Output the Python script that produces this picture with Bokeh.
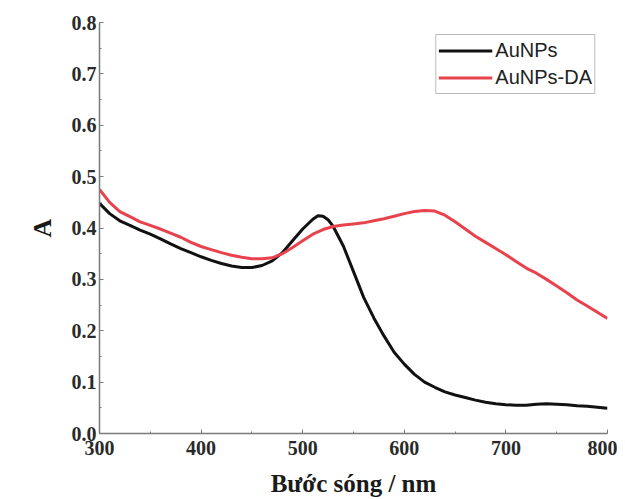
from bokeh.plotting import figure
from bokeh.models import Range1d, FixedTicker, Legend, LegendItem
from bokeh.embed import file_html
from bokeh.resources import INLINE

wavelength = [300, 310, 320, 330, 340, 350, 360, 370, 380, 390, 400, 410, 420, 430, 440,
              450, 460, 470, 480, 490, 500, 510, 515, 520, 525, 530, 540, 550, 560, 570,
              580, 590, 600, 610, 620, 630, 640, 650, 660, 670, 680, 690, 700, 710, 720,
              730, 740, 750, 760, 770, 780, 790, 800]

aunps = [0.448, 0.428, 0.414, 0.405, 0.396, 0.388, 0.379, 0.369, 0.360, 0.352, 0.344,
         0.337, 0.331, 0.326, 0.323, 0.323, 0.327, 0.336, 0.352, 0.375, 0.398, 0.417,
         0.424, 0.423, 0.416, 0.403, 0.365, 0.315, 0.265, 0.225, 0.190, 0.158, 0.135,
         0.115, 0.100, 0.090, 0.081, 0.075, 0.070, 0.065, 0.061, 0.058, 0.056, 0.055,
         0.055, 0.057, 0.058, 0.057, 0.056, 0.054, 0.053, 0.051, 0.049]

wavelength_da = [300, 310, 320, 330, 340, 350, 360, 370, 380, 390, 400, 410, 420, 430, 440,
                 450, 460, 470, 480, 490, 500, 510, 520, 530, 540, 550, 560, 570, 580, 590,
                 600, 610, 620, 630, 640, 650, 660, 670, 680, 690, 700, 710, 720, 730, 740,
                 750, 760, 770, 780, 790, 800]

aunps_da = [0.475, 0.450, 0.432, 0.422, 0.412, 0.405, 0.398, 0.390, 0.382, 0.372, 0.364,
            0.358, 0.352, 0.347, 0.343, 0.340, 0.340, 0.342, 0.350, 0.362, 0.375, 0.388,
            0.397, 0.403, 0.406, 0.408, 0.410, 0.414, 0.418, 0.423, 0.428, 0.432, 0.434,
            0.433, 0.425, 0.412, 0.398, 0.384, 0.372, 0.360, 0.348, 0.335, 0.322, 0.312,
            0.300, 0.287, 0.274, 0.260, 0.248, 0.236, 0.224]

x_ticks = [300, 400, 500, 600, 700, 800]
y_ticks = [0.0, 0.1, 0.2, 0.3, 0.4, 0.5, 0.6, 0.7, 0.8]

p = figure(width=617, height=490, frame_width=508, frame_height=411,
           output_backend="svg", toolbar_location=None,
           x_range=Range1d(300, 800), y_range=Range1d(0, 0.8),
           min_border_left=99, min_border_right=10, min_border_top=22, min_border_bottom=57)
p.outline_line_color = None
p.grid.visible = False
p.background_fill_color = "white"
p.border_fill_color = "white"

for ax in (p.xaxis[0], p.yaxis[0]):
    ax.axis_line_color = "#7a7a7a"
    ax.axis_line_width = 1.5
    ax.major_tick_line_color = "#7a7a7a"
    ax.minor_tick_line_color = "#7a7a7a"
    ax.major_tick_in = 4
    ax.major_tick_out = 0
    ax.minor_tick_in = 2
    ax.minor_tick_out = 0
    ax.major_label_text_font = "Liberation Serif"
    ax.major_label_text_font_style = "bold"
    ax.major_label_text_font_size = "20px"
    ax.major_label_text_color = "#2a2a2a"
    ax.axis_label_text_font = "Liberation Serif"
    ax.axis_label_text_font_style = "bold"
    ax.axis_label_text_color = "#1a1a1a"

p.xaxis.ticker = FixedTicker(ticks=x_ticks, minor_ticks=list(range(300, 801, 50)))
p.yaxis.ticker = FixedTicker(ticks=y_ticks, minor_ticks=[i * 0.05 for i in range(17)])
p.yaxis.major_label_overrides = {t: f"{t:.1f}" for t in y_ticks}
p.xaxis.major_label_standoff = 7
p.yaxis.major_label_standoff = 3
p.xaxis.axis_label = "Bước sóng / nm"
p.xaxis.axis_label_text_font_size = "25px"
p.xaxis.axis_label_standoff = 12
p.yaxis.axis_label = "A"
p.yaxis.axis_label_text_font_size = "26px"
p.yaxis.axis_label_standoff = 12

r1 = p.line(wavelength, aunps, line_color="#111111", line_width=3)
r2 = p.line(wavelength_da, aunps_da, line_color="#e8434d", line_width=3)

legend = Legend(items=[LegendItem(label="AuNPs", renderers=[r1]),
                       LegendItem(label="AuNPs-DA", renderers=[r2])],
                location="top_right")
legend.margin = 12
legend.padding = 2
legend.spacing = 0
legend.glyph_width = 54
legend.glyph_height = 27
legend.label_standoff = 3
legend.label_height = 27
legend.label_text_font = "Liberation Sans"
legend.label_text_font_size = "20px"
legend.label_text_color = "#222222"
legend.border_line_color = "#7a7a7a"
legend.border_line_width = 1.5
legend.background_fill_alpha = 1.0
p.add_layout(legend)

open("out.html", "w").write(file_html(p, INLINE))
